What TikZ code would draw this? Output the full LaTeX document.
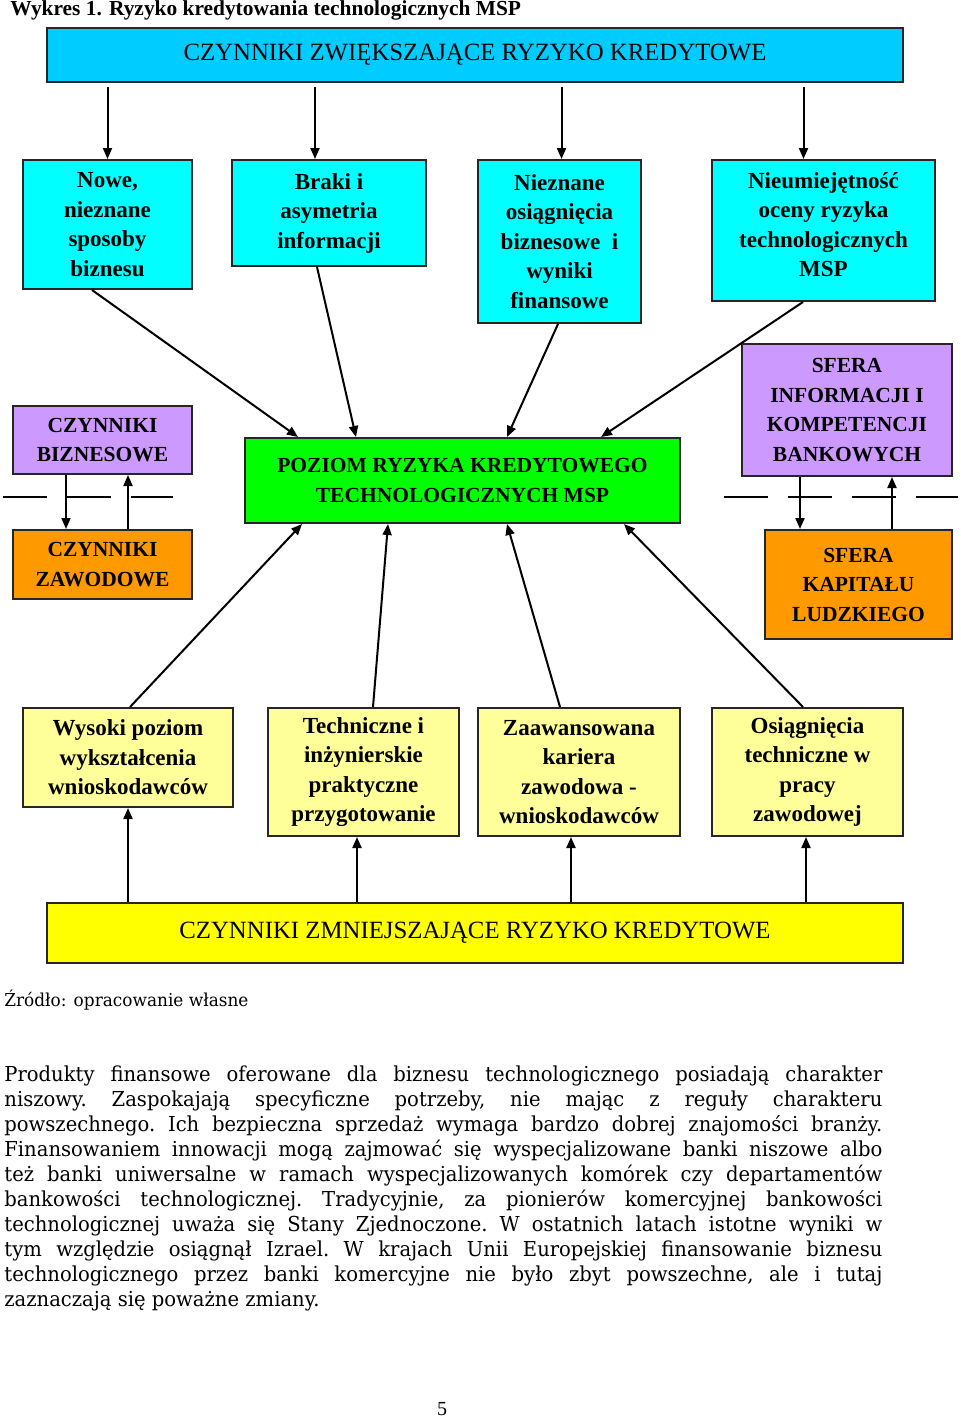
\documentclass[tikz,border=0pt]{standalone}
\usepackage{fontspec}
\setmainfont{Liberation Serif}
\newfontfamily\bodyfont[FakeStretch=0.95]{DejaVu Serif}
\usetikzlibrary{arrows.meta}

\definecolor{topcyan}{RGB}{0,204,255}
\definecolor{boxcyan}{RGB}{0,255,255}
\definecolor{boxviolet}{RGB}{204,153,255}
\definecolor{boxgreen}{RGB}{0,255,0}
\definecolor{boxorange}{RGB}{255,153,0}
\definecolor{boxlemon}{RGB}{255,255,153}
\definecolor{boxyellow}{RGB}{255,255,0}

\tikzset{
  box/.style={draw=black!85, line width=1pt, align=center, inner sep=2pt,
    font=\fontsize{11.5}{14.75}\selectfont\bfseries},
  capbox/.style={box, font=\fontsize{10.75}{14.75}\selectfont\bfseries},
  headbox/.style={box, font=\fontsize{12.4}{15}\selectfont},
  arr/.style={line width=1pt, -{Triangle[length=5.5pt,width=4.5pt]}},
  sep/.style={line width=.8pt, dash pattern=on 22pt off 10pt}
}

\begin{document}
\begin{tikzpicture}[x=.5pt,y=-.5pt]
\useasboundingbox (0,0) rectangle (960,1418);

\node[anchor=base west, inner sep=0pt, font=\fontsize{10.7}{12}\selectfont\bfseries] (title) at (10,16)
  {Wykres 1. Ryzyko kredytowania technologicznych MSP};

\node[headbox, fill=topcyan, minimum width=428pt, minimum height=27pt] (top) at (475,55)
  {CZYNNIKI ZWIĘKSZAJĄCE RYZYKO KREDYTOWE};

% gorny rzad
\node[box, fill=boxcyan, minimum width=84.5pt, minimum height=64.5pt] (n1) at (107.5,224.5)
  {Nowe,\\ nieznane\\ sposoby\\ biznesu};
\node[box, fill=boxcyan, minimum width=97pt, minimum height=53pt] (n2) at (329,213)
  {Braki i\\ asymetria\\ informacji};
\node[box, fill=boxcyan, minimum width=81.5pt, minimum height=81.5pt] (n3) at (559.5,241.5)
  {Nieznane\\ osiągnięcia\\ biznesowe\ \ i\\ wyniki\\ finansowe};
\node[box, fill=boxcyan, minimum width=111.5pt, minimum height=70.5pt, text depth=6pt] (n4) at (823.5,230.5)
  {Nieumiejętność\\ oceny ryzyka\\ technologicznych\\ MSP};

% srodek
\node[capbox, fill=boxviolet, minimum width=89.5pt, minimum height=34pt] (biz) at (102.5,440)
  {CZYNNIKI\\ BIZNESOWE};
\node[capbox, fill=boxorange, minimum width=89.5pt, minimum height=34.5pt] (zaw) at (102.5,564.5)
  {CZYNNIKI\\ ZAWODOWE};
\node[capbox, fill=boxgreen, minimum width=217.5pt, minimum height=42.5pt] (poziom) at (462.5,480.5)
  {POZIOM RYZYKA KREDYTOWEGO\\ TECHNOLOGICZNYCH MSP};
\node[capbox, fill=boxviolet, minimum width=105pt, minimum height=66pt] (bank) at (847,410)
  {SFERA\\ INFORMACJI I\\ KOMPETENCJI\\ BANKOWYCH};
\node[capbox, fill=boxorange, minimum width=93.5pt, minimum height=54.5pt] (kap) at (858.5,584.5)
  {SFERA\\ KAPITAŁU\\ LUDZKIEGO};

% dolny rzad
\node[box, fill=boxlemon, minimum width=105pt, minimum height=49.5pt] (w1) at (128,757.5)
  {Wysoki poziom\\ wykształcenia\\ wnioskodawców};
\node[box, fill=boxlemon, minimum width=95.5pt, minimum height=64pt] (w2) at (363.5,772)
  {Techniczne i\\ inżynierskie\\ praktyczne\\ przygotowanie};
\node[box, fill=boxlemon, minimum width=101pt, minimum height=64pt] (w3) at (579,772)
  {Zaawansowana\\ kariera\\ zawodowa -\\ wnioskodawców};
\node[box, fill=boxlemon, minimum width=95.5pt, minimum height=64pt] (w4) at (807.5,772)
  {Osiągnięcia\\ techniczne w\\ pracy\\ zawodowej};

\node[headbox, fill=boxyellow, minimum width=428pt, minimum height=30pt] (bottom) at (475,933)
  {CZYNNIKI ZMNIEJSZAJĄCE RYZYKO KREDYTOWE};

% strzalki
\foreach \n/\dx in {n1/0,n2/-7,n3/1,n4/-10}{
  \coordinate (e) at ([xshift=\dx pt]\n.north);
  \draw[arr, shorten <=2pt] (top.south -| e) -- (e);
}
\foreach \n/\dx in {w1/0,w2/-3.25,w3/-4,w4/-.75}{
  \coordinate (e) at ([xshift=\dx pt]\n.south);
  \draw[arr] (bottom.north -| e) -- (e);
}
\foreach \n/\dx/\dy in {n1/-7.75/-82.25,n2/-6/-53.25,n3/-.75/22.25,n4/-10.25/69.25}
  \draw[arr] ([xshift=\dx pt]\n.south) -- ([xshift=\dy pt]poziom.north);
\foreach \n/\dx/\dy in {w1/1/-80.25,w2/4.75/-37.25,w3/-9.5/22.25,w4/-2.25/80.75}
  \draw[arr] ([xshift=\dx pt]\n.north) -- ([xshift=\dy pt]poziom.south);

\coordinate (l1) at ([xshift=-18.25pt]biz.south);
\coordinate (l2) at ([xshift=12.75pt]biz.south);
\draw[arr] (l1) -- (zaw.north -| l1);
\draw[arr] (zaw.north -| l2) -- (l2);
\coordinate (r1) at ([xshift=-23.5pt]bank.south);
\coordinate (r2) at ([xshift=22.5pt]bank.south);
\draw[arr] (r1) -- (kap.north -| r1);
\draw[arr] (kap.north -| r2) -- (r2);

\draw[sep] (3,497) -- (173,497);
\draw[sep] (724,497) -- (958,497);

\node[anchor=base west, inner sep=0pt, font=\bodyfont\fontsize{8.9}{10}\selectfont] (src) at (4,1006)
  {Źródło: opracowanie własne};

\node[anchor=north west, inner sep=0pt, text width=439pt, align=justify,
      font=\bodyfont\frenchspacing\fontsize{10.3}{12.5}\selectfont] (txt) at (4,1065)
  {Produkty finansowe oferowane dla biznesu technologicznego posiadają charakter\linebreak
   niszowy. Zaspokajają specyficzne potrzeby, nie mając z reguły charakteru\linebreak
   powszechnego. Ich bezpieczna sprzedaż wymaga bardzo dobrej znajomości branży.\linebreak
   Finansowaniem innowacji mogą zajmować się wyspecjalizowane banki niszowe albo\linebreak
   też banki uniwersalne w ramach wyspecjalizowanych komórek czy departamentów\linebreak
   bankowości technologicznej. Tradycyjnie, za pionierów komercyjnej bankowości\linebreak
   technologicznej uważa się Stany Zjednoczone. W ostatnich latach istotne wyniki w\linebreak
   tym względzie osiągnął Izrael. W krajach Unii Europejskiej finansowanie biznesu\linebreak
   technologicznego przez banki komercyjne nie było zbyt powszechne, ale i tutaj\linebreak
   zaznaczają się poważne zmiany.};

\node[anchor=base, font=\fontsize{10}{12}\selectfont] (page) at (442,1415) {5};

\end{tikzpicture}
\end{document}
